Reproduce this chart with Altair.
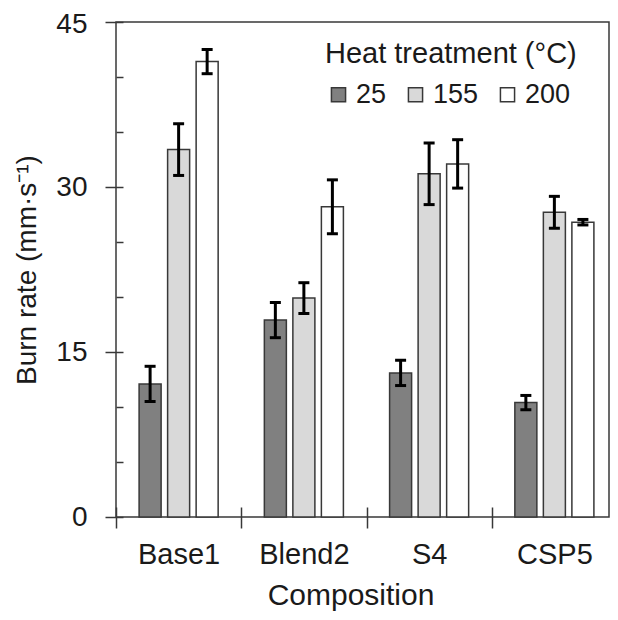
import altair as alt
import pandas as pd

compositions = ["Base1", "Blend2", "S4", "CSP5"]
temps = ["25", "155", "200"]

mean_25 = [12.1, 17.9, 13.1, 10.4]
mean_155 = [33.4, 19.9, 31.2, 27.7]
mean_200 = [41.4, 28.2, 32.1, 26.8]

err_25 = [1.6, 1.6, 1.15, 0.65]
err_155 = [2.35, 1.4, 2.8, 1.45]
err_200 = [1.1, 2.45, 2.2, 0.25]

fills = ["#808080", "#d9d9d9", "#ffffff"]

rows = []
for t, means, errs in zip(temps, [mean_25, mean_155, mean_200], [err_25, err_155, err_200]):
    for c, m, e in zip(compositions, means, errs):
        rows.append({"comp": c, "temp": t, "mean": m, "lo": m - e, "hi": m + e})
df = pd.DataFrame(rows)

FONT = "Liberation Sans"
TXT = "#1a1a1a"
LINE = "#383838"
ytitle = "Burn rate (mm·s⁻¹)"

x_enc = alt.X(
    "comp:N",
    sort=compositions,
    scale=alt.Scale(paddingInner=0, paddingOuter=0, range=[0, 501]),
    axis=alt.Axis(
        title="Composition",
        labelAngle=0,
        labelFontSize=29,
        titleFontSize=30,
        titleFontWeight="normal",
        domain=False,
        tickBand="extent",
        tickSize=21,
        offset=-10,
        tickColor=LINE,
        tickWidth=1.5,
        labelPadding=12,
        titleX=234.5,
        titleY=97,
        titleAlign="center",
        titleBaseline="alphabetic",
    ),
)
xo_enc = alt.XOffset(
    "temp:N", sort=temps, scale=alt.Scale(paddingInner=0.228, paddingOuter=0.81)
)

base = alt.Chart(df).encode(x=x_enc, xOffset=xo_enc)

bars = base.mark_bar(stroke=LINE, strokeWidth=1.5).encode(
    y=alt.Y(
        "mean:Q",
        title=ytitle,
        scale=alt.Scale(domain=[0, 45], nice=False),
        axis=alt.Axis(
            values=list(range(0, 46, 5)),
            labelExpr="datum.value % 15 === 0 ? datum.label : ''",
            tickSize={"condition": {"test": "datum.value % 15 === 0", "value": 18}, "value": 7},
            labelOffset={"condition": {"test": "datum.value === 45", "value": 2}, "value": 0},
            offset=-7,
            domain=False,
            grid=False,
            tickColor=LINE,
            tickWidth=1.5,
            labelPadding=18,
            labelFontSize=28,
            titleFontSize=28,
            titleFontWeight="normal",
            titleX=-88,
            titleY=247.5,
            titleAlign="center",
            titleBaseline="alphabetic",
        ),
    ),
    fill=alt.Fill(
        "temp:N",
        sort=temps,
        scale=alt.Scale(domain=temps, range=fills),
        legend=alt.Legend(
            title="Heat treatment (°C)",
            orient="none",
            legendX=209,
            legendY=18,
            direction="horizontal",
            symbolType="square",
            symbolSize=200,
            symbolStrokeColor=LINE,
            symbolStrokeWidth=1.5,
            symbolOpacity=1,
            labelFontSize=27,
            titleFontSize=29,
            titleFontWeight="normal",
            titleLimit=600,
            labelLimit=200,
            titlePadding=12,
            columnPadding=15,
            labelOffset=4,
            padding=0,
        ),
    ),
)

rules = base.mark_rule(color="black", strokeWidth=3).encode(
    y=alt.Y("lo:Q", title=ytitle), y2="hi:Q"
)
cap_hi = base.mark_tick(color="black", thickness=3, size=11, opacity=1).encode(
    y=alt.Y("hi:Q", title=ytitle)
)
cap_lo = base.mark_tick(color="black", thickness=3, size=11, opacity=1).encode(
    y=alt.Y("lo:Q", title=ytitle)
)

chart = (
    alt.layer(bars, rules, cap_hi, cap_lo)
    .properties(
        width=493,
        height=495,
        autosize=alt.AutoSizeParams(type="none"),
        padding={"left": 108, "top": 14, "right": 1, "bottom": 95},
    )
    .configure_view(stroke=LINE, strokeWidth=1.5)
    .configure_axis(
        labelFont=FONT, titleFont=FONT, labelColor=TXT, titleColor=TXT
    )
    .configure_legend(
        labelFont=FONT, titleFont=FONT, labelColor=TXT, titleColor=TXT
    )
)

chart.save("out.html", embed_options={"renderer": "svg", "actions": False})
